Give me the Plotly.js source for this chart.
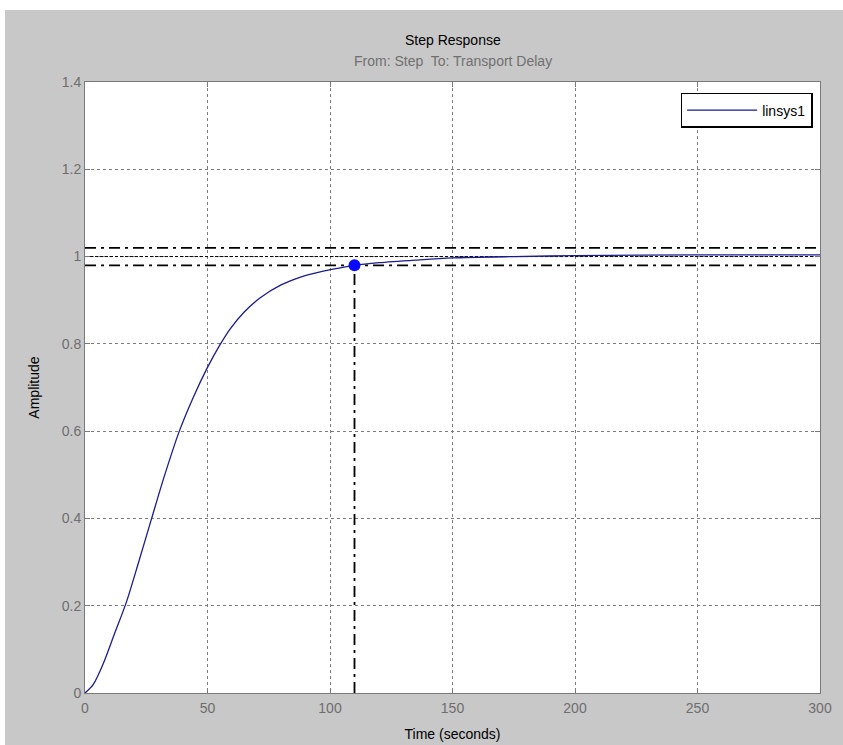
<!DOCTYPE html>
<html>
<head>
<meta charset="utf-8">
<script src="https://cdn.plot.ly/plotly-3.0.1.min.js"></script>
<style>
html,body{margin:0;padding:0;background:#ffffff;width:843px;height:745px;overflow:hidden;}
#chart{position:absolute;left:5px;top:10px;width:838px;height:735px;}
</style>
</head>
<body>
<div id="chart"></div>
<script>
// Step response data
const timeS = [0, 3.4, 7.5, 12, 17, 22, 27.2, 32, 38.5, 44, 50, 55, 59.2, 65, 71.4, 80, 88, 96, 103, 110, 120, 135, 150, 175, 200, 250, 300];
const amplitude = [0, 0.02, 0.068, 0.135, 0.21, 0.302, 0.4, 0.49, 0.6, 0.675, 0.746, 0.797, 0.834, 0.873, 0.905, 0.935, 0.953, 0.965, 0.973, 0.98, 0.986, 0.992, 0.997, 1.0, 1.002, 1.004, 1.004];
const seriesName = "linsys1";
// Settling-time characteristic
const settleTime = 110;
const settleValue = 0.98;
const finalValue = 1;
const upperBound = 1.02;
const lowerBound = 0.98;
const tRange = [0, 300];
const xTicks = [0, 50, 100, 150, 200, 250, 300];
const yTicks = [0, 0.2, 0.4, 0.6, 0.8, 1, 1.2, 1.4];
const yTickText = ["0", "0.2", "0.4", "0.6", "0.8", "1", "1.2", "1.4"];

const tickFont = {family: "'Liberation Sans Narrow', 'Liberation Sans', Arial, sans-serif", size: 14, color: "#6e6e6e"};
const labFont = {family: "'Liberation Sans Narrow', 'Liberation Sans', Arial, sans-serif", size: 14, color: "#000000"};

const traces = [
  {x: tRange, y: [upperBound, upperBound], mode: "lines", line: {color: "#000", width: 1.8, dash: "11px,5px,3px,5px"}, showlegend: false, hoverinfo: "skip"},
  {x: tRange, y: [lowerBound, lowerBound], mode: "lines", line: {color: "#000", width: 1.8, dash: "11px,5px,3px,5px"}, showlegend: false, hoverinfo: "skip"},
  {x: tRange, y: [finalValue, finalValue], mode: "lines", line: {color: "#000", width: 1, dash: "3px,2px"}, showlegend: false, hoverinfo: "skip"},
  {x: [settleTime, settleTime], y: [0, settleValue], mode: "lines", line: {color: "#000", width: 1.8, dash: "11px,5px,3px,5px"}, showlegend: false, hoverinfo: "skip"},
  {x: timeS, y: amplitude, mode: "lines", name: seriesName, line: {color: "#1c1c8c", width: 1.3, shape: "spline", smoothing: 0.8}},
  {x: [settleTime], y: [settleValue], mode: "markers", marker: {color: "#0a0aff", size: 12}, showlegend: false}
];

const axisCommon = {
  showline: true, linecolor: "#7a7a7a", linewidth: 1, mirror: "ticks",
  ticks: "inside", ticklen: 5, tickcolor: "#7a7a7a",
  showgrid: true, gridcolor: "#7d7d7d", gridwidth: 1, griddash: "3px,3px",
  zeroline: false, tickfont: tickFont, fixedrange: true
};

const layout = {
  width: 838, height: 735,
  paper_bgcolor: "#c8c8c8", plot_bgcolor: "#ffffff",
  margin: {l: 80, r: 23, t: 72, b: 52},
  showlegend: true,
  legend: {x: 0.99, y: 0.982, xanchor: "right", yanchor: "top", bgcolor: "#ffffff", bordercolor: "#000", borderwidth: 1.5,
           itemwidth: 70, tracegroupgap: 0,
           font: {family: "'Liberation Sans', Arial, sans-serif", size: 14, color: "#000"}},
  xaxis: Object.assign({}, axisCommon, {range: tRange, tickvals: xTicks, ticklabelstandoff: 2,
          title: {text: "Time (seconds)", font: labFont, standoff: 14}}),
  yaxis: Object.assign({}, axisCommon, {range: [0, 1.4], tickvals: yTicks, ticktext: yTickText,
          title: {text: "Amplitude", font: labFont, standoff: 18}}),
  annotations: [
    {text: "Step Response", xref: "paper", yref: "paper", x: 0.5, y: 1, yanchor: "middle", yshift: 42, showarrow: false,
     font: {family: "'Liberation Sans', Arial, sans-serif", size: 14, color: "#000"}},
    {text: "From: Step  To: Transport Delay", xref: "paper", yref: "paper", x: 0.5, y: 1, yanchor: "middle", yshift: 21, showarrow: false,
     font: {family: "'Liberation Sans', Arial, sans-serif", size: 14, color: "#707070"}}
  ]
};

Plotly.newPlot("chart", traces, layout, {displayModeBar: false, staticPlot: true});
</script>
</body>
</html>
